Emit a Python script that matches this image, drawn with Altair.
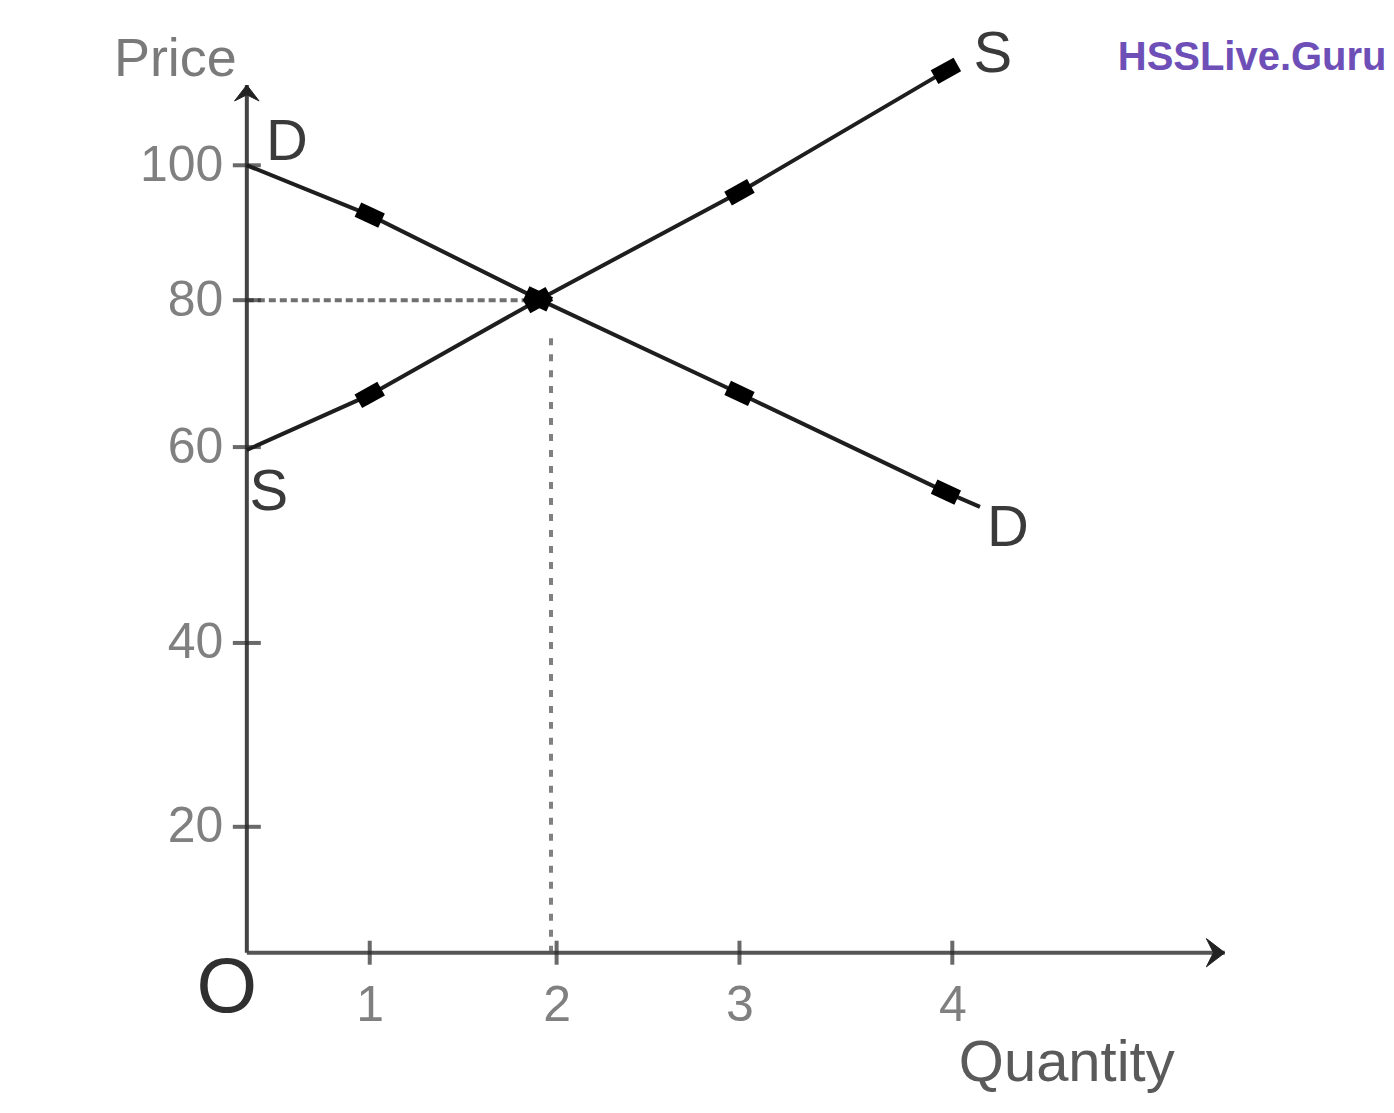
import altair as alt
import pandas as pd

# ---- data ----
x_ticks = [1, 2, 3, 4]
y_ticks = [20, 40, 60, 80, 100]

# drawn axis positions (hand-drawn, uneven spacing -> piecewise scale)
x_knots = [0, 1, 2, 3, 4, 5]
y_knots = [0, 20, 40, 60, 80, 100, 120]

demand_q = [0, 1, 1.9, 3, 3.97, 4.13]
demand_p = [100, 92.6, 80.2, 67.3, 55.4, 53.9]
supply_q = [0, 1, 1.9, 3, 3.97]
supply_p = [59.7, 67.1, 80, 96, 114]

eq_q, eq_p = 1.9, 80
eq_drop_q = 1.97
x_axis_end = 5.28
y_axis_end = 111.9

watermark = "HSSLive.Guru"
watermark_q, watermark_p = 6.04, 114.1

# ---- scales (the hand drawing has irregular tick spacing) ----
XS = alt.Scale(domain=x_knots, range=[0, 123, 310, 493, 706, 919], nice=False, zero=False)
YS = alt.Scale(domain=y_knots, range=[923, 797, 613, 417, 270, 135, 0], nice=False, zero=False)

FONT = "Liberation Sans"
XAX = alt.Axis(values=x_ticks, domain=False, ticks=False, grid=False,
               labelFontSize=50, labelColor="#808080", labelPadding=28, labelFont=FONT,
               title="Quantity", titleFontSize=58, titleFontWeight="normal", titleColor="#5a5a5a",
               titleFont=FONT, titleX=820, titleY=128, titleAlign="center",
               titleBaseline="alphabetic")
YAX = alt.Axis(values=y_ticks, domain=False, ticks=False, grid=False,
               labelFontSize=50, labelColor="#808080", labelPadding=24, labelFont=FONT,
               title="Price", titleAngle=0, titleX=-72, titleY=45, titleAlign="center",
               titleBaseline="alphabetic", titleFontSize=54, titleColor="#7a7a7a",
               titleFontWeight="normal", titleFont=FONT)


def enc(ch, **extra):
    return ch.encode(x=alt.X("q:Q", scale=XS, axis=XAX),
                     y=alt.Y("p:Q", scale=YS, axis=YAX), **extra)


demand = pd.DataFrame({"q": demand_q, "p": demand_p})
supply = pd.DataFrame({"q": supply_q, "p": supply_p})
d_marks = demand.iloc[1:5]
s_marks = supply.iloc[1:5]

x_axis_df = pd.DataFrame({"q": [0], "q2": [x_axis_end], "p": [0]})
y_axis_df = pd.DataFrame({"q": [0], "p": [0], "p2": [y_axis_end]})

x_axis = enc(alt.Chart(x_axis_df).mark_rule(color="#555", strokeWidth=4), x2="q2")
y_axis = enc(alt.Chart(y_axis_df).mark_rule(color="#444", strokeWidth=4), y2="p2")

x_arrow = enc(alt.Chart(pd.DataFrame({"q": [x_axis_end], "p": [0]})).mark_point(
    shape="M-1.3,-1L0,0L-1.3,1L-0.8,0Z", filled=True, fill="#222", stroke="#222",
    strokeWidth=1, size=800, opacity=1))
y_arrow = enc(alt.Chart(pd.DataFrame({"q": [0], "p": [y_axis_end]})).mark_point(
    shape="M-1,1.3L0,0L1,1.3L0,0.8Z", filled=True, fill="#222", stroke="#222",
    strokeWidth=1, size=600, opacity=1))

x_tick_marks = enc(alt.Chart(pd.DataFrame({"q": x_ticks, "p": [0] * len(x_ticks)})).mark_tick(
    orient="vertical", size=24, thickness=4, color="#2a2a2a"))
y_tick_marks = enc(alt.Chart(pd.DataFrame({"q": [0] * len(y_ticks), "p": y_ticks})).mark_tick(
    orient="horizontal", size=28, thickness=4, color="#2a2a2a"))

h_dot = enc(alt.Chart(pd.DataFrame({"q": [0], "q2": [eq_q], "p": [eq_p]})).mark_rule(
    color="#707070", strokeWidth=4, strokeDash=[7, 4]), x2="q2")
v_dot = enc(alt.Chart(pd.DataFrame({"q": [eq_drop_q], "p": [0], "p2": [76]})).mark_rule(
    color="#808080", strokeWidth=4, strokeDash=[7, 9]), y2="p2")

LC = "#1e1e1e"
d_line = enc(alt.Chart(demand).mark_line(color=LC, strokeWidth=4))
s_line = enc(alt.Chart(supply).mark_line(color=LC, strokeWidth=4))

RECT = "M-1,-0.6L1,-0.6L1,0.6L-1,0.6Z"
d_pts = enc(alt.Chart(d_marks).mark_point(shape=RECT, filled=True, color="#000", size=680,
                                          angle=25, opacity=1))
s_pts = enc(alt.Chart(s_marks).mark_point(shape=RECT, filled=True, color="#000", size=680,
                                          angle=331, opacity=1))

LBL = dict(font=FONT, fontSize=58, color="#3a3a3a", align="center", baseline="middle")
d_start = enc(alt.Chart(demand.iloc[[0]]).mark_text(text="D", dx=40, dy=-22, **LBL))
d_end = enc(alt.Chart(demand.iloc[[-1]]).mark_text(text="D", dx=28, dy=22, **LBL))
s_start = enc(alt.Chart(supply.iloc[[0]]).mark_text(text="S", dx=22, dy=43, **LBL))
s_end = enc(alt.Chart(supply.iloc[[-1]]).mark_text(text="S", dx=47, dy=-16, **LBL))
origin = enc(alt.Chart(pd.DataFrame({"q": [0], "p": [0]})).mark_text(
    text="O", dx=-20, dy=36, font=FONT, fontSize=78, color="#303030", align="center",
    baseline="middle"))

wm = enc(alt.Chart(pd.DataFrame({"q": [watermark_q], "p": [watermark_p], "t": [watermark]}))
         .mark_text(font=FONT, fontSize=40, fontWeight="bold", color="#6e4fb8",
                    align="right", baseline="alphabetic"), text="t:N")

chart = alt.layer(
    h_dot, v_dot, x_axis, y_axis, x_tick_marks, y_tick_marks,
    d_line, s_line, d_pts, s_pts, x_arrow, y_arrow, d_start, d_end, s_start, s_end, origin, wm,
).properties(
    width=1000, height=923,
    autosize=alt.AutoSizeParams(type="none"),
    padding={"left": 239, "top": 22, "right": 140, "bottom": 150},
    background="white",
).configure_view(strokeWidth=0, stroke="transparent")

chart.save("out.html", embed_options={"renderer": "svg", "actions": False})
